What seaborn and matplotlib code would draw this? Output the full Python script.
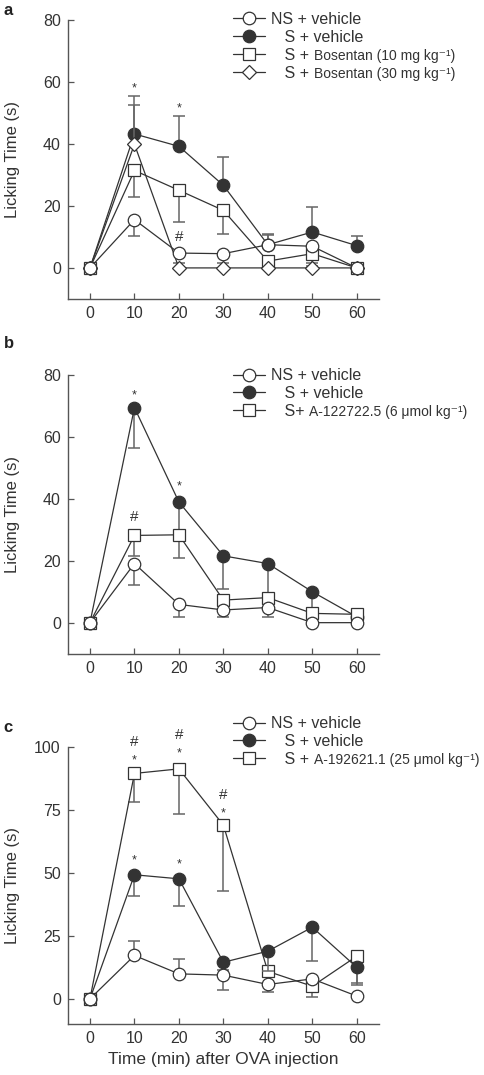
import numpy as np
import pandas as pd
import matplotlib
matplotlib.use("Agg")
import matplotlib.pyplot as plt
import seaborn as sns
from matplotlib.lines import Line2D

# time points (min after OVA)
times = [0, 10, 20, 30, 40, 50, 60]

# panel a  (mean, lower err, upper err)
a_ns = [0, 15.6, 4.8, 4.6, 7.5, 7.0, 0]
a_ns_lo = [0, 5.2, 0, 0, 0, 0, 0]
a_ns_hi = [0, 0, 0, 0, 3.4, 0, 0]
a_s = [0, 43.3, 39.3, 26.7, 7.5, 11.6, 7.2]
a_s_lo = [0, 0, 0, 0, 0, 0, 0]
a_s_hi = [0, 12.4, 9.8, 9.1, 3.3, 8.0, 3.0]
a_b10 = [0, 31.5, 25.1, 18.6, 2.2, 4.6, 0]
a_b10_lo = [0, 8.6, 10.4, 7.5, 2.0, 4.0, 0]
a_b10_hi = [0, 0, 0, 0, 0, 0, 0]
a_b30 = [0, 40.0, 0, 0, 0, 0, 0]
a_b30_lo = [0, 0, 0, 0, 0, 0, 0]
a_b30_hi = [0, 12.5, 1.6, 1.6, 0, 1.6, 0]

# panel b
b_ns = [0, 19.1, 5.9, 4.1, 4.9, 0, 0]
b_ns_lo = [0, 7.0, 4.0, 2.2, 3.0, 0, 0]
b_s = [0, 69.5, 39.0, 21.6, 19.1, 10.0, 1.9]
b_s_lo = [0, 13.0, 10.0, 10.8, 12.0, 5.7, 0.5]
b_a122 = [0, 28.2, 28.4, 7.3, 8.1, 3.0, 2.7]
b_a122_lo = [0, 6.5, 7.5, 3.0, 3.0, 1.5, 0.5]
b_zero = [0, 0, 0, 0, 0, 0, 0]

# panel c
c_ns = [0, 17.2, 9.9, 9.4, 5.7, 7.9, 1.1]
c_ns_lo = [0, 0, 0, 5.7, 3.0, 0, 0]
c_ns_hi = [0, 5.8, 5.7, 0, 0, 0, 0]
c_s = [0, 49.2, 47.6, 14.5, 18.9, 28.4, 12.5]
c_s_lo = [0, 8.3, 10.7, 3.0, 8.0, 13.5, 6.4]
c_a192 = [0, 89.4, 91.2, 68.9, 10.9, 5.0, 16.9]
c_a192_lo = [0, 11.3, 18.0, 26.0, 2.0, 4.2, 11.6]
c_zero = [0, 0, 0, 0, 0, 0, 0]

# significance marks (x, y, symbol)
a_marks = [(10, 58, "*"), (20, 51.5, "*"), (20, 10, "#")]
b_marks = [(10, 73.5, "*"), (20, 44, "*"), (10, 34, "#")]
c_marks = [(10, 94.5, "*"), (10, 102, "#"), (20, 97.5, "*"), (20, 104.5, "#"),
           (30, 73.5, "*"), (30, 81, "#"), (10, 55, "*"), (20, 53.5, "*")]

LINE = "#333333"
ERR = "#666666"
TXT = "#333333"

sns.set_style("ticks")
plt.rcParams['font.family'] = ['Liberation Sans', 'DejaVu Sans']


def msize(m):
    return 7.5 if m == "D" else 9


def draw(ax, y, lo, hi, marker, fill, z):
    ax.errorbar(times, y, yerr=[lo, hi], fmt="none", ecolor=ERR, elinewidth=1.1,
                capsize=4.5, capthick=1.1, zorder=z)
    sns.lineplot(x=times, y=y, ax=ax, color=LINE, lw=0.9, marker=marker,
                 markersize=msize(marker), markerfacecolor=fill,
                 markeredgecolor=LINE, markeredgewidth=0.9, zorder=z + 0.5,
                 legend=False)


def style(ax, yticks, ylim):
    ax.set_xlim(-5, 65)
    ax.set_ylim(*ylim)
    ax.set_xticks(times)
    ax.set_yticks(yticks)
    sns.despine(ax=ax)
    for sp in ["left", "bottom"]:
        ax.spines[sp].set_color("#555555")
        ax.spines[sp].set_linewidth(1.0)
    ax.tick_params(direction="in", length=4, width=0.9, color="#555555",
                   labelcolor=TXT, labelsize=11.5, pad=5)
    ax.set_ylabel("Licking Time (s)", fontsize=12, color=TXT)
    ax.yaxis.set_label_coords(-0.155, 0.5)
    ax.set_xlabel("")


def make_legend(ax, entries, anchor):
    handles = [Line2D([0], [0], color=LINE, lw=0.9, marker=m,
                      markersize=msize(m), markerfacecolor=f,
                      markeredgecolor=LINE, markeredgewidth=0.9)
               for m, f, _, _ in entries]
    labels = [e[2] for e in entries]
    leg = ax.legend(handles, labels, loc="upper left", bbox_to_anchor=anchor,
                    frameon=False, fontsize=11.5, handlelength=2.0,
                    handletextpad=0.4, labelspacing=0.18, borderaxespad=0,
                    borderpad=0)
    for t in leg.get_texts():
        t.set_color(TXT)
    for txt, e in zip(leg.get_texts(), entries):
        if e[3]:
            ax.annotate(e[3], xy=(1, 0), xycoords=txt, va="bottom", ha="left",
                        fontsize=10, color=TXT, zorder=6)
    return leg


def marks(ax, lst):
    for x, y, s in lst:
        ax.text(x, y, s, ha="center", va="center",
                fontsize=9 if s == "*" else 11, color=TXT)


fig = plt.figure(figsize=(4.84, 10.75), dpi=100)
ax_a = fig.add_axes([0.140, 0.722, 0.643, 0.259])
ax_b = fig.add_axes([0.140, 0.392, 0.643, 0.259])
ax_c = fig.add_axes([0.140, 0.0474, 0.643, 0.258])

# panel a
draw(ax_a, a_s, a_s_lo, a_s_hi, "o", LINE, 2)
draw(ax_a, a_b10, a_b10_lo, a_b10_hi, "s", "white", 3)
draw(ax_a, a_b30, a_b30_lo, a_b30_hi, "D", "white", 4)
draw(ax_a, a_ns, a_ns_lo, a_ns_hi, "o", "white", 5)
style(ax_a, [0, 20, 40, 60, 80], (-10, 80))
marks(ax_a, a_marks)
make_legend(ax_a, [("o", "white", "NS + vehicle", ""),
                   ("o", LINE, "   S + vehicle", ""),
                   ("s", "white", "   S + ", "Bosentan (10 mg kg\u207b\u00b9)"),
                   ("D", "white", "   S + ", "Bosentan (30 mg kg\u207b\u00b9)")],
            (0.53, 1.03))

# panel b
draw(ax_b, b_s, b_s_lo, b_zero, "o", LINE, 2)
draw(ax_b, b_a122, b_a122_lo, b_zero, "s", "white", 3)
draw(ax_b, b_ns, b_ns_lo, b_zero, "o", "white", 5)
style(ax_b, [0, 20, 40, 60, 80], (-10, 80))
marks(ax_b, b_marks)
make_legend(ax_b, [("o", "white", "NS + vehicle", ""),
                   ("o", LINE, "   S + vehicle", ""),
                   ("s", "white", "   S+ ", "A-122722.5 (6 \u03bcmol kg\u207b\u00b9)")],
            (0.53, 1.025))

# panel c
draw(ax_c, c_a192, c_a192_lo, c_zero, "s", "white", 2)
draw(ax_c, c_s, c_s_lo, c_zero, "o", LINE, 3)
draw(ax_c, c_ns, c_ns_lo, c_ns_hi, "o", "white", 5)
style(ax_c, [0, 25, 50, 75, 100], (-10, 100))
marks(ax_c, c_marks)
ax_c.set_xlabel("Time (min) after OVA injection", fontsize=12.5, color=TXT,
                labelpad=4)
make_legend(ax_c, [("o", "white", "NS + vehicle", ""),
                   ("o", LINE, "   S + vehicle", ""),
                   ("s", "white", "   S + ", "A-192621.1 (25 \u03bcmol kg\u207b\u00b9)")],
            (0.53, 1.11))

for lbl, y in [("a", 0.997), ("b", 0.687), ("c", 0.330)]:
    fig.text(0.008, y, lbl, fontsize=12, fontweight="bold", va="top",
             color="#222222")

fig.canvas.draw()
fig.savefig("out.png", dpi=100)
